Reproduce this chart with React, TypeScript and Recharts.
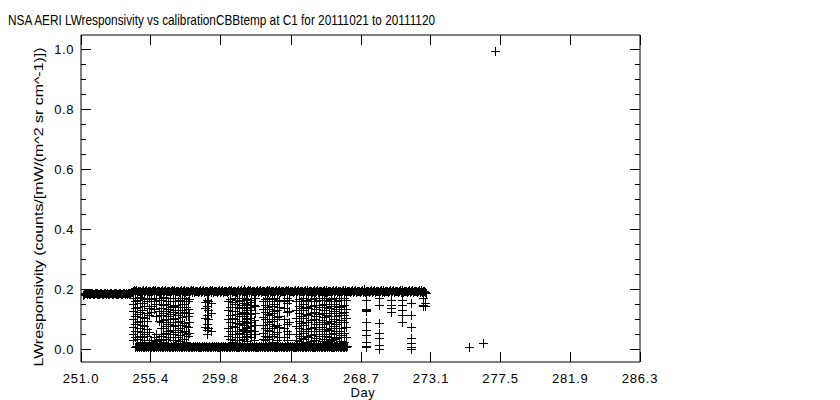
import React from 'react';
import { ScatterChart, Scatter, XAxis, YAxis, Label } from 'recharts';

const TITLE = 'NSA AERI LWresponsivity vs calibrationCBBtemp at C1 for 20111021 to 20111120';
const X_LABEL = 'Day';
const Y_LABEL = 'LWresponsivity (counts/[mW/(m^2 sr cm^-1)])';

const X_TICKS = [251.0, 255.4, 259.8, 264.3, 268.7, 273.1, 277.5, 281.9, 286.3];
const Y_TICKS = [
  0, 0.05, 0.1, 0.15, 0.2, 0.25, 0.3, 0.35, 0.4, 0.45, 0.5,
  0.55, 0.6, 0.65, 0.7, 0.75, 0.8, 0.85, 0.9, 0.95, 1.0,
];

// calibration band near 0.19, before the gap opens (day, responsivity)
const upperBandEarly: [number, number][] = [
  [251.12, .181],
  [251.20, .184], [251.26, .187], [251.32, .189], [251.38, .185], [251.44, .188], [251.50, .186], [251.56, .184], [251.62, .187], [251.68, .189], [251.74, .186],
  [251.80, .184], [251.86, .187], [251.92, .189], [251.98, .185], [252.04, .188], [252.10, .186], [252.16, .184], [252.22, .187], [252.28, .189], [252.34, .186],
  [252.40, .184], [252.46, .187], [252.52, .189], [252.58, .185], [252.64, .188], [252.70, .186], [252.76, .184], [252.82, .187], [252.88, .189], [252.94, .186],
  [253.00, .184], [253.06, .187], [253.12, .189], [253.18, .185], [253.24, .188], [253.30, .186], [253.36, .184], [253.42, .187], [253.48, .189], [253.54, .186],
  [253.60, .184], [253.66, .187], [253.72, .189], [253.78, .185], [253.84, .188], [253.90, .186], [253.96, .187], [254.02, .188], [254.08, .189], [254.14, .190],
];

// calibration band near 0.19, later part
const upperBand: [number, number][] = [
  [254.20, .191], [254.26, .194], [254.32, .197], [254.38, .192], [254.44, .195], [254.50, .198], [254.56, .191], [254.62, .194], [254.68, .196], [254.74, .193],
  [254.80, .191], [254.86, .194], [254.92, .197], [254.98, .192], [255.04, .195], [255.10, .198], [255.16, .191], [255.22, .194], [255.28, .196], [255.34, .193],
  [255.40, .191], [255.46, .194], [255.52, .197], [255.58, .192], [255.64, .195], [255.70, .198], [255.76, .191], [255.82, .194], [255.88, .196], [255.94, .193],
  [256.00, .191], [256.06, .194], [256.12, .197], [256.18, .192], [256.24, .195], [256.30, .198], [256.36, .191], [256.42, .194], [256.48, .196], [256.54, .193],
  [256.60, .191], [256.66, .194], [256.72, .197], [256.78, .192], [256.84, .195], [256.90, .198], [256.96, .191], [257.02, .194], [257.08, .196], [257.14, .193],
  [257.20, .191], [257.26, .194], [257.32, .197], [257.38, .192], [257.44, .195], [257.50, .198], [257.56, .191], [257.62, .194], [257.68, .196], [257.74, .193],
  [257.80, .191], [257.86, .194], [257.92, .197], [257.98, .192], [258.04, .195], [258.10, .198], [258.16, .191], [258.22, .194], [258.28, .196], [258.34, .193],
  [258.40, .191], [258.46, .194], [258.52, .197], [258.58, .192], [258.64, .195], [258.70, .198], [258.76, .191], [258.82, .194], [258.88, .196], [258.94, .193],
  [259.00, .191], [259.06, .194], [259.12, .197], [259.18, .192], [259.24, .195], [259.30, .198], [259.36, .191], [259.42, .194], [259.48, .196], [259.54, .193],
  [259.60, .191], [259.66, .194], [259.72, .197], [259.78, .192], [259.84, .195], [259.90, .198], [259.96, .191], [260.02, .194], [260.08, .196], [260.14, .193],
  [260.20, .191], [260.26, .194], [260.32, .197], [260.38, .192], [260.44, .195], [260.50, .198], [260.56, .191], [260.62, .194], [260.68, .196], [260.74, .193],
  [260.80, .191], [260.86, .194], [260.92, .197], [260.98, .192], [261.04, .195], [261.10, .198], [261.16, .191], [261.22, .194], [261.28, .200], [261.34, .193],
  [261.40, .191], [261.46, .194], [261.52, .197], [261.58, .192], [261.64, .195], [261.70, .198], [261.76, .191], [261.82, .194], [261.88, .196], [261.94, .193],
  [262.00, .191], [262.06, .194], [262.12, .197], [262.18, .192], [262.24, .195], [262.30, .198], [262.36, .191], [262.42, .194], [262.48, .196], [262.54, .193],
  [262.60, .191], [262.66, .194], [262.72, .197], [262.78, .192], [262.84, .195], [262.90, .198], [262.96, .191], [263.02, .194], [263.08, .196], [263.14, .193],
  [263.20, .191], [263.26, .194], [263.32, .197], [263.38, .192], [263.44, .195], [263.50, .198], [263.56, .191], [263.62, .194], [263.68, .196], [263.74, .193],
  [263.80, .191], [263.86, .194], [263.92, .197], [263.98, .192], [264.04, .195], [264.10, .198], [264.16, .191], [264.22, .194], [264.28, .196], [264.34, .193],
  [264.40, .191], [264.46, .194], [264.52, .197], [264.58, .192], [264.64, .195], [264.70, .198], [264.76, .191], [264.82, .194], [264.88, .196], [264.94, .193],
  [265.00, .191], [265.06, .194], [265.12, .197], [265.18, .192], [265.24, .195], [265.30, .198], [265.36, .191], [265.42, .194], [265.48, .196], [265.54, .193],
  [265.60, .191], [265.66, .194], [265.72, .197], [265.78, .192], [265.84, .195], [265.90, .198], [265.96, .191], [266.02, .194], [266.08, .196], [266.14, .193],
  [266.20, .191], [266.26, .194], [266.32, .197], [266.38, .192], [266.44, .195], [266.50, .198], [266.56, .191], [266.62, .194], [266.68, .196], [266.74, .193],
  [266.80, .191], [266.86, .194], [266.92, .197], [266.98, .192], [267.04, .195], [267.10, .198], [267.16, .191], [267.22, .194], [267.28, .196], [267.34, .193],
  [267.40, .191], [267.46, .194], [267.52, .197], [267.58, .192], [267.64, .195], [267.70, .198], [267.76, .191], [267.82, .194], [267.88, .196], [267.94, .193],
  [268.00, .191], [268.06, .194], [268.12, .197], [268.18, .192], [268.24, .195], [268.30, .198], [268.36, .191], [268.42, .194], [268.48, .196], [268.54, .193],
  [268.60, .191], [268.66, .194], [268.72, .197], [268.78, .192], [268.84, .195], [268.90, .200], [268.96, .191], [269.02, .194], [269.08, .196], [269.14, .193],
  [269.20, .191], [269.26, .194], [269.32, .197], [269.38, .192], [269.44, .195], [269.50, .198], [269.56, .191], [269.62, .194], [269.68, .196], [269.74, .193],
  [269.80, .191], [269.86, .194], [269.92, .197], [269.98, .192], [270.04, .195], [270.10, .198], [270.16, .191], [270.22, .194], [270.28, .196], [270.34, .193],
  [270.40, .191], [270.46, .194], [270.52, .197], [270.58, .192], [270.64, .195], [270.70, .198], [270.76, .191], [270.82, .194], [270.88, .196], [270.94, .193],
  [271.00, .191], [271.06, .194], [271.12, .197], [271.18, .192], [271.24, .195], [271.30, .198], [271.36, .191], [271.42, .194], [271.48, .196], [271.54, .193],
  [271.60, .191], [271.66, .194], [271.72, .197], [271.78, .192], [271.84, .195], [271.90, .198], [271.96, .191], [272.02, .194], [272.08, .196], [272.14, .193],
  [272.20, .191], [272.26, .194], [272.32, .197], [272.38, .192], [272.44, .195], [272.50, .198], [272.56, .191], [272.62, .194], [272.68, .193], [272.74, .190],
  [272.80, .189],
];

// band near zero
const lowerBand: [number, number][] = [
  [254.40, .009], [254.46, .011], [254.52, .007], [254.58, .010], [254.64, .008], [254.70, .011], [254.76, .007], [254.82, .009], [254.88, .010], [254.94, .008],
  [255.00, .009], [255.06, .011], [255.12, .007], [255.18, .010], [255.24, .008], [255.30, .011], [255.36, .007], [255.42, .009], [255.48, .010], [255.54, .008],
  [255.60, .009], [255.66, .011], [255.72, .007], [255.78, .010], [255.84, .008], [255.90, .011], [255.96, .007], [256.02, .009], [256.08, .010], [256.14, .008],
  [256.20, .009], [256.26, .011], [256.32, .007], [256.38, .010], [256.44, .008], [256.50, .011], [256.56, .007], [256.62, .009], [256.68, .010], [256.74, .008],
  [256.80, .009], [256.86, .011], [256.92, .007], [256.98, .010], [257.04, .008], [257.10, .011], [257.16, .007], [257.22, .009], [257.28, .010], [257.34, .008],
  [257.40, .009], [257.46, .011], [257.52, .007], [257.58, .010], [257.64, .008], [257.70, .011], [257.76, .007], [257.82, .009], [257.88, .010], [257.94, .008],
  [258.00, .009], [258.06, .011], [258.12, .007], [258.18, .010], [258.24, .008], [258.30, .011], [258.36, .007], [258.42, .009], [258.48, .010], [258.54, .008],
  [258.60, .009], [258.66, .011], [258.72, .007], [258.78, .010], [258.84, .008], [258.90, .011], [258.96, .007], [259.02, .009], [259.08, .010], [259.14, .008],
  [259.20, .009], [259.26, .011], [259.32, .007], [259.38, .010], [259.44, .008], [259.50, .011], [259.56, .007], [259.62, .009], [259.68, .010], [259.74, .008],
  [259.80, .009], [259.86, .011], [259.92, .007], [259.98, .010], [260.04, .008], [260.10, .011], [260.16, .007], [260.22, .009], [260.28, .010], [260.34, .008],
  [260.40, .009], [260.46, .011], [260.52, .007], [260.58, .010], [260.64, .008], [260.70, .011], [260.76, .007], [260.82, .009], [260.88, .010], [260.94, .008],
  [261.00, .009], [261.06, .011], [261.12, .007], [261.18, .010], [261.24, .008], [261.30, .011], [261.36, .007], [261.42, .009], [261.48, .010], [261.54, .008],
  [261.60, .009], [261.66, .011], [261.72, .007], [261.78, .010], [261.84, .008], [261.90, .011], [261.96, .007], [262.02, .009], [262.08, .010], [262.14, .008],
  [262.20, .009], [262.26, .011], [262.32, .007], [262.38, .010], [262.44, .008], [262.50, .011], [262.56, .007], [262.62, .009], [262.68, .010], [262.74, .008],
  [262.80, .009], [262.86, .011], [262.92, .007], [262.98, .010], [263.04, .008], [263.10, .011], [263.16, .007], [263.22, .009], [263.28, .010], [263.34, .008],
  [263.40, .009], [263.46, .011], [263.52, .007], [263.58, .010], [263.64, .008], [263.70, .011], [263.76, .007], [263.82, .009], [263.88, .010], [263.94, .008],
  [264.00, .009], [264.06, .011], [264.12, .007], [264.18, .010], [264.24, .008], [264.30, .011], [264.36, .007], [264.42, .009], [264.48, .010], [264.54, .008],
  [264.60, .009], [264.66, .011], [264.72, .007], [264.78, .010], [264.84, .008], [264.90, .011], [264.96, .007], [265.02, .009], [265.08, .010], [265.14, .008],
  [265.20, .009], [265.26, .011], [265.32, .007], [265.38, .010], [265.44, .008], [265.50, .011], [265.56, .007], [265.62, .009], [265.68, .010], [265.74, .008],
  [265.80, .009], [265.86, .011], [265.92, .007], [265.98, .010], [266.04, .008], [266.10, .011], [266.16, .007], [266.22, .009], [266.28, .010], [266.34, .008],
  [266.40, .009], [266.46, .011], [266.52, .007], [266.58, .010], [266.64, .008], [266.70, .011], [266.76, .007], [266.82, .009], [266.88, .010], [266.94, .008],
  [267.00, .009], [267.06, .011], [267.12, .007], [267.18, .010], [267.24, .008], [267.30, .011], [267.36, .007], [267.42, .009], [267.48, .010], [267.54, .008],
  [267.60, .009], [267.66, .011], [267.72, .007], [267.78, .010],
];

// vertical scatter between the two bands: [day, values]
const meshColumns: [number, number[]][] = [
  [254.3, [0.172, 0.15, 0.128, 0.1, 0.075, 0.05, 0.03]],
  [254.42, [0.162, 0.138, 0.112, 0.085, 0.06, 0.04]],
  [254.55, [0.165, 0.14, 0.118, 0.09, 0.062, 0.035]],
  [254.7, [0.175, 0.155, 0.125, 0.095, 0.07, 0.045, 0.022]],
  [254.85, [0.17, 0.155, 0.132, 0.108, 0.082, 0.058, 0.04, 0.025]],
  [255.0, [0.168, 0.145, 0.105, 0.078, 0.052, 0.03]],
  [255.15, [0.16, 0.12, 0.095, 0.068, 0.045]],
  [255.3, [0.172, 0.138, 0.115, 0.058, 0.025]],
  [255.45, [0.168, 0.145, 0.125, 0.03]],
  [255.6, [0.16, 0.135, 0.042, 0.022]],
  [255.75, [0.172, 0.15, 0.11, 0.05, 0.028]],
  [255.9, [0.165, 0.128, 0.095, 0.035]],
  [256.05, [0.165, 0.138, 0.115, 0.09, 0.07, 0.045, 0.03]],
  [256.2, [0.175, 0.148, 0.122, 0.098, 0.072, 0.05, 0.025]],
  [256.35, [0.17, 0.152, 0.128, 0.1, 0.078, 0.055, 0.035]],
  [256.5, [0.162, 0.135, 0.11, 0.085, 0.06, 0.04, 0.022]],
  [256.65, [0.16, 0.14, 0.118, 0.092, 0.065, 0.04]],
  [256.8, [0.17, 0.145, 0.125, 0.1, 0.078, 0.052, 0.03]],
  [256.95, [0.172, 0.148, 0.13, 0.105, 0.08, 0.058, 0.03]],
  [257.1, [0.162, 0.14, 0.115, 0.09, 0.065, 0.042, 0.022]],
  [257.25, [0.165, 0.142, 0.12, 0.096, 0.07, 0.048, 0.028]],
  [257.38, [0.172, 0.152, 0.13, 0.108, 0.082, 0.058, 0.035]],
  [257.5, [0.17, 0.15, 0.125, 0.088, 0.06, 0.035]],
  [257.62, [0.162, 0.14, 0.112, 0.078, 0.05, 0.025]],
  [257.75, [0.16, 0.135, 0.11, 0.075, 0.045]],
  [257.85, [0.168, 0.122, 0.092, 0.055]],
  [258.85, [0.158, 0.138, 0.105, 0.075]],
  [258.95, [0.165, 0.145, 0.115, 0.085, 0.065, 0.05]],
  [259.05, [0.16, 0.132, 0.1, 0.07]],
  [259.2, [0.155, 0.12, 0.06]],
  [260.3, [0.162, 0.13, 0.1, 0.072, 0.045]],
  [260.4, [0.168, 0.14, 0.115, 0.09, 0.06, 0.035]],
  [260.55, [0.158, 0.128, 0.105, 0.078, 0.05, 0.025]],
  [260.7, [0.172, 0.15, 0.128, 0.1, 0.075, 0.05, 0.03]],
  [260.85, [0.165, 0.142, 0.118, 0.088, 0.062, 0.04]],
  [261.0, [0.16, 0.138, 0.112, 0.085, 0.055, 0.032]],
  [261.15, [0.17, 0.148, 0.122, 0.095, 0.068, 0.042]],
  [261.3, [0.17, 0.155, 0.14, 0.125, 0.11, 0.095, 0.08, 0.065, 0.05, 0.035]],
  [261.4, [0.163, 0.148, 0.132, 0.118, 0.1, 0.088, 0.072, 0.058, 0.042]],
  [261.5, [0.168, 0.152, 0.138, 0.12, 0.105, 0.09, 0.075, 0.06, 0.045, 0.028]],
  [261.65, [0.158, 0.13, 0.105, 0.078, 0.052]],
  [261.75, [0.165, 0.14, 0.118, 0.09, 0.065, 0.04]],
  [261.9, [0.172, 0.148, 0.098, 0.062, 0.03]],
  [262.0, [0.17, 0.145, 0.12, 0.08, 0.05]],
  [262.5, [0.162, 0.135, 0.108, 0.08, 0.055, 0.035]],
  [262.6, [0.168, 0.148, 0.125, 0.1, 0.07, 0.045, 0.03]],
  [262.75, [0.172, 0.142, 0.118, 0.09, 0.065, 0.04]],
  [262.9, [0.16, 0.135, 0.115, 0.085, 0.06, 0.035]],
  [263.05, [0.168, 0.145, 0.122, 0.095, 0.07, 0.045, 0.025]],
  [263.2, [0.172, 0.15, 0.128, 0.1, 0.078, 0.05]],
  [263.35, [0.16, 0.132, 0.108, 0.082, 0.058, 0.03]],
  [263.5, [0.165, 0.14, 0.11, 0.075, 0.04]],
  [263.85, [0.162, 0.138, 0.1, 0.07, 0.042]],
  [264.0, [0.17, 0.155, 0.125, 0.085, 0.06, 0.03]],
  [264.15, [0.165, 0.128, 0.092, 0.05]],
  [264.6, [0.16, 0.132, 0.105, 0.078, 0.05, 0.03]],
  [264.75, [0.168, 0.145, 0.12, 0.095, 0.07, 0.045, 0.028]],
  [264.9, [0.162, 0.138, 0.112, 0.088, 0.062, 0.038]],
  [265.05, [0.172, 0.15, 0.13, 0.105, 0.08, 0.055, 0.035]],
  [265.2, [0.165, 0.142, 0.118, 0.092, 0.068, 0.045, 0.025]],
  [265.35, [0.16, 0.138, 0.115, 0.09, 0.062, 0.04]],
  [265.55, [0.168, 0.145, 0.122, 0.098, 0.072, 0.048, 0.028]],
  [265.7, [0.17, 0.148, 0.125, 0.1, 0.075, 0.05, 0.03]],
  [265.85, [0.162, 0.135, 0.11, 0.085, 0.06, 0.038]],
  [266.0, [0.165, 0.142, 0.118, 0.092, 0.068, 0.045]],
  [266.2, [0.17, 0.148, 0.122, 0.098, 0.075, 0.05, 0.028]],
  [266.35, [0.172, 0.15, 0.13, 0.108, 0.085, 0.06, 0.035]],
  [266.5, [0.165, 0.14, 0.115, 0.09, 0.068, 0.045, 0.025]],
  [266.65, [0.16, 0.138, 0.112, 0.088, 0.065, 0.042, 0.028]],
  [266.8, [0.168, 0.145, 0.12, 0.095, 0.072, 0.05, 0.03]],
  [266.95, [0.17, 0.152, 0.128, 0.1, 0.078, 0.055, 0.035]],
  [267.1, [0.162, 0.135, 0.11, 0.085, 0.06, 0.038]],
  [267.3, [0.165, 0.14, 0.115, 0.09, 0.06, 0.04]],
  [267.45, [0.17, 0.145, 0.12, 0.098, 0.07, 0.048, 0.028]],
  [267.6, [0.171, 0.148, 0.125, 0.115, 0.092, 0.055, 0.025]],
  [267.72, [0.165, 0.135, 0.105, 0.075, 0.04]],
  [269.0, [0.165, 0.135, 0.131, 0.127, 0.092, 0.065, 0.048, 0.025, 0.008, 0.012]],
  [269.8, [0.171, 0.148, 0.088, 0.055, 0.038, 0.015, 0.0]],
  [270.6, [0.165, 0.148, 0.138, 0.125]],
  [271.3, [0.165, 0.148, 0.131, 0.115, 0.092]],
  [271.85, [0.155, 0.115, 0.075, 0.038, 0.021, 0.008, 0.0]],
  [272.6, [0.171, 0.147, 0.143]],
  [272.75, [0.155, 0.145]],
];

// isolated points
const outliers: [number, number][] = [
  [275.53, 0.009],
  [276.37, 0.022],
  [277.17, 0.995],
];

const points = [
  ...upperBandEarly,
  ...upperBand,
  ...lowerBand,
  ...meshColumns.flatMap(([d, vals]) => vals.map((v) => [d, v] as [number, number])),
  ...outliers,
].map(([day, resp]) => ({ day, resp }));

const FONT = '"Liberation Sans", Arial, sans-serif';

const PlusMark = (props: any) => {
  const { cx, cy } = props;
  if (cx == null || cy == null) return null;
  const x = Math.round(cx) + 0.5;
  const y = Math.round(cy) + 0.5;
  return (
    <path
      d={`M${x - 4.5},${y}H${x + 4.5}M${x},${y - 4.5}V${y + 4.5}`}
      stroke="#000"
      strokeWidth={1}
      fill="none"
      shapeRendering="crispEdges"
    />
  );
};

const isMajor = (v: number) => Math.abs(v * 5 - Math.round(v * 5)) < 1e-6;

const BottomTick = (props: any) => {
  const { x, y, payload } = props;
  return (
    <g>
      <line x1={x} y1={y} x2={x} y2={y - 10} stroke="#000" shapeRendering="crispEdges" />
      <text x={x} y={y + 21} textAnchor="middle" fontFamily={FONT} fontSize={13} letterSpacing={0.8} fill="#000">
        {Number(payload.value).toFixed(1)}
      </text>
    </g>
  );
};

const TopTick = (props: any) => {
  const { x, y } = props;
  return <line x1={x} y1={y} x2={x} y2={y + 10} stroke="#000" shapeRendering="crispEdges" />;
};

const LeftTick = (props: any) => {
  const { x, y, payload } = props;
  const major = isMajor(payload.value);
  return (
    <g>
      <line x1={x} y1={y} x2={x + (major ? 10 : 5)} y2={y} stroke="#000" shapeRendering="crispEdges" />
      {major && (
        <text x={x - 7} y={y + 5} textAnchor="end" fontFamily={FONT} fontSize={13} letterSpacing={0.6} fill="#000">
          {Number(payload.value).toFixed(1)}
        </text>
      )}
    </g>
  );
};

const RightTick = (props: any) => {
  const { x, y, payload } = props;
  const major = isMajor(payload.value);
  return <line x1={x} y1={y} x2={x - (major ? 10 : 5)} y2={y} stroke="#000" shapeRendering="crispEdges" />;
};

export default function App() {
  return (
    <div style={{ position: 'absolute', left: 0, top: 0, width: 840, height: 400, background: '#fff' }}>
      <svg width={840} height={30} style={{ position: 'absolute', left: 0, top: 0 }}>
        <text x={8} y={25} fontFamily={FONT} fontSize={15} textLength={427} lengthAdjust="spacingAndGlyphs" fill="#000">
          {TITLE}
        </text>
      </svg>
      <div style={{ position: 'absolute', left: 0, top: 0 }}>
        <ScatterChart width={840} height={400} margin={{ top: 34, right: 199, bottom: 8, left: 21 }}>
          <XAxis
            xAxisId="b"
            dataKey="day"
            type="number"
            domain={[251.0, 286.3]}
            ticks={X_TICKS}
            interval={0}
            allowDataOverflow
            height={30}
            tickSize={0}
            tickMargin={0}
            tickLine={false}
            axisLine={{ stroke: '#000' }}
            tick={<BottomTick />}
          >
            <Label
              content={() => (
                <text x={363} y={397} textAnchor="middle" fontFamily={FONT} fontSize={13} letterSpacing={0.6} fill="#000">
                  {X_LABEL}
                </text>
              )}
            />
          </XAxis>
          <XAxis
            xAxisId="t"
            orientation="top"
            type="number"
            dataKey="day"
            domain={[251.0, 286.3]}
            ticks={X_TICKS}
            interval={0}
            allowDataOverflow
            height={1}
            tickSize={0}
            tickMargin={0}
            tickLine={false}
            axisLine={{ stroke: '#000' }}
            tick={<TopTick />}
          />
          <YAxis
            yAxisId="l"
            dataKey="resp"
            type="number"
            domain={[-0.0423, 1.0477]}
            ticks={Y_TICKS}
            interval={0}
            allowDataOverflow
            width={60}
            tickSize={0}
            tickMargin={0}
            tickLine={false}
            axisLine={{ stroke: '#000' }}
            tick={<LeftTick />}
          >
            <Label
              content={() => (
                <text
                  x={38}
                  y={207}
                  transform="rotate(-90 38 207)"
                  textAnchor="middle"
                  dominantBaseline="central"
                  fontFamily={FONT}
                  fontSize={13.5}
                  textLength={319}
                  lengthAdjust="spacingAndGlyphs"
                  fill="#000"
                >
                  {Y_LABEL}
                </text>
              )}
            />
          </YAxis>
          <YAxis
            yAxisId="r"
            orientation="right"
            dataKey="resp"
            type="number"
            domain={[-0.0423, 1.0477]}
            ticks={Y_TICKS}
            interval={0}
            allowDataOverflow
            width={1}
            tickSize={0}
            tickMargin={0}
            tickLine={false}
            axisLine={{ stroke: '#000' }}
            tick={<RightTick />}
          />
          <Scatter
            xAxisId="b"
            yAxisId="l"
            data={points}
            shape={<PlusMark />}
            isAnimationActive={false}
          />
          <Scatter xAxisId="t" yAxisId="r" data={[]} isAnimationActive={false} />
        </ScatterChart>
      </div>
    </div>
  );
}
